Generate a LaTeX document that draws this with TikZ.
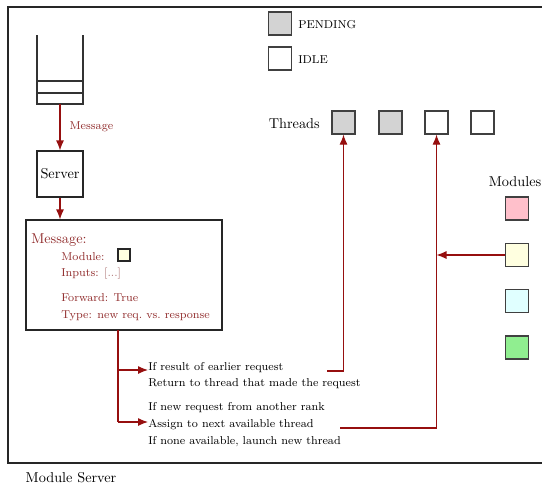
\documentclass[tikz,border=0pt]{standalone}
\usetikzlibrary{arrows.meta,calc}
\definecolor{arrred}{RGB}{150,15,15}
\definecolor{txtred}{RGB}{145,45,45}
\definecolor{dimred}{RGB}{175,120,120}
\definecolor{pend}{RGB}{211,211,211}
\definecolor{modpink}{RGB}{255,192,203}
\definecolor{modyellow}{RGB}{255,255,224}
\definecolor{modcyan}{RGB}{224,255,255}
\definecolor{modgreen}{RGB}{144,238,144}
\begin{document}
\begin{tikzpicture}[x=0.7pt,y=-0.7pt,
  box/.style={draw,thick,draw=black!75,minimum size=16.1pt,inner sep=0pt},
  arr/.style={draw=arrred,thick,-{Latex[length=7pt,width=5.6pt]}},
  rline/.style={draw=arrred,thick},
  small/.style={font=\footnotesize,inner sep=0pt,anchor=west},
  smallred/.style={small,text=txtred}]
\useasboundingbox (0,0) rectangle (542,483);
\clip (0,0) rectangle (542,483);
% frame
\draw[thick,black!85] (560,7) -- (8,7) -- (8,463) -- (560,463);
\node[anchor=north] (cap) at (71,467) {Module Server};
% stack
\draw[thick,black!80] (37,35) -- (37,104) -- (83,104) -- (83,35);
\draw[thick,black!80] (37,81) -- (83,81);
\draw[thick,black!80] (37,93) -- (83,93);
\coordinate (stackbot) at (60,104);
% server
\node[draw,thick,draw=black!85,minimum size=32.2pt,inner sep=0pt] (server) at (60,174) {Server};
\draw[arr] (stackbot) -- node[right=3pt,font=\footnotesize,text=txtred] (msglab) {Message} (server.north);
% message box
\node[draw,thick,draw=black!85,minimum width=137.2pt,minimum height=77pt,inner sep=0pt] (msg) at (124,275) {};
\draw[arr] (server.south) -- (server.south |- msg.north);
\node[anchor=west,inner sep=0pt,text=txtred] (mtitle) at (31,240) {Message:};
\node[smallred] (mmod) at (61,257) {Module:};
\node[draw,thick,draw=black!85,fill=modyellow,minimum size=8.4pt,inner sep=0pt] (mmodbox) at (124,255) {};
\node[smallred] (minp) at (61,274) {Inputs: \textcolor{dimred}{[...]}};
\node[smallred] (mfwd) at (61,298) {Forward: True};
\node[smallred] (mtype) at (61,316) {Type: new req.\ vs.\ response};
% branch
\coordinate (b0) at (118,330);
\coordinate (b1) at (118,370);
\coordinate (b2) at (118,422);
\node[small] (t1) at (148,368) {If result of earlier request};
\node[small] (t2) at (148,384) {Return to thread that made the request};
\node[small] (t3) at (148,408) {If new request from another rank};
\node[small] (t4) at (148,425) {Assign to next available thread};
\node[small] (t5) at (148,442) {If none available, launch new thread};
\draw[rline] (b0) -- (b2);
\draw[arr] (b1) -- (b1 -| t1.west);
\draw[arr] (b2) -- (b2 -| t4.west);
% legend
\node[box,fill=pend] (lpend) at (280,23.5) {};
\node[small] (lpendt) at (298,25) {PENDING};
\node[box,fill=white] (lidle) at (280,58.5) {};
\node[small] (lidlet) at (298,60) {IDLE};
% threads
\node[anchor=east,inner sep=0pt] (thlab) at (320,124) {Threads};
\node[box,fill=pend] (th1) at (343.5,122.5) {};
\node[box,fill=pend] (th2) at (390.5,122.5) {};
\node[box,fill=white] (th3) at (436.5,122.5) {};
\node[box,fill=white] (th4) at (482.5,122.5) {};
% modules
\node[inner sep=0pt] (modlab) at (515,182) {Modules};
\node[box,fill=modpink] (mod1) at (517,208.5) {};
\node[box,fill=modyellow] (mod2) at (517,255) {};
\node[box,fill=modcyan] (mod3) at (517,301) {};
\node[box,fill=modgreen] (mod4) at (517,347.5) {};
% return paths
\coordinate (r1) at (327,371);
\coordinate (r2) at (340,428);
\draw[arr] (r1) -| (th1.south);
\draw[arr] (r2) -| (th3.south);
\draw[arr] (mod2.west) -- (mod2.west -| th3.south);
\end{tikzpicture}
\end{document}
